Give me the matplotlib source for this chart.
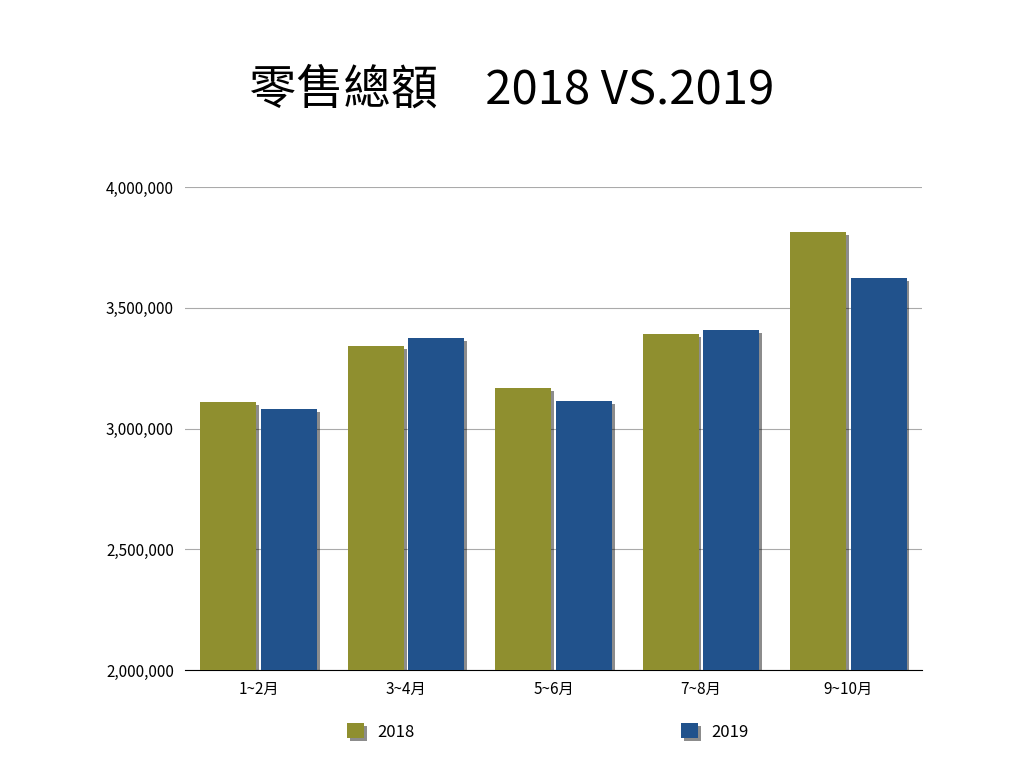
import numpy as np
import matplotlib.pyplot as plt
import matplotlib.patheffects as pe
from matplotlib.ticker import FuncFormatter

plt.rcParams["font.family"] = ["Noto Sans CJK TC", "DejaVu Sans"]

CATEGORIES = ["1~2月", "3~4月", "5~6月", "7~8月", "9~10月"]
SALES_2018 = [3110000, 3342000, 3168000, 3391000, 3814000]
SALES_2019 = [3081000, 3375000, 3114000, 3408000, 3623000]
SERIES_LABELS = ["2018", "2019"]

COLOR_2018 = "#8F8F2F"
COLOR_2019 = "#21528C"

fig = plt.figure(figsize=(10.24, 7.68), dpi=100)
ax = fig.add_axes([185 / 1024, 1 - 670 / 768, 737 / 1024, 483 / 768])

x = np.arange(len(CATEGORIES))
w = 0.4
shadow = [pe.SimplePatchShadow(offset=(2, -2), shadow_rgbFace="black", alpha=0.45), pe.Normal()]
b1 = ax.bar(x - w / 2 - 0.005, SALES_2018, width=w - 0.02, bottom=0, color=COLOR_2018,
            label=SERIES_LABELS[0], zorder=3)
b2 = ax.bar(x + w / 2 + 0.005, SALES_2019, width=w - 0.02, color=COLOR_2019,
            label=SERIES_LABELS[1], zorder=3)
for bar in list(b1) + list(b2):
    bar.set_path_effects(shadow)

ax.set_ylim(2000000, 4000000)
ax.set_yticks([2000000, 2500000, 3000000, 3500000, 4000000])
ax.yaxis.set_major_formatter(FuncFormatter(lambda v, p: f"{int(v):,}"))
ax.set_xlim(-0.5, len(CATEGORIES) - 0.5)
ax.set_xticks(x)
ax.set_xticklabels(CATEGORIES)
ax.grid(axis="y", color="#aaaaaa", linewidth=0.8, zorder=0)
for s in ["top", "right", "left"]:
    ax.spines[s].set_visible(False)
ax.spines["bottom"].set_color("black")
ax.tick_params(axis="both", length=0, labelsize=11, pad=8)

fig.text(0.5, 1 - 90 / 768, "零售總額　2018 VS.2019", ha="center", va="center", fontsize=34)

fig.legend(handles=[b1, b2], labels=SERIES_LABELS, loc="center", bbox_to_anchor=(0.535, 1 - 732 / 768),
           ncol=2, frameon=False, fontsize=12, handlelength=1, handleheight=1,
           columnspacing=16)

fig.savefig("out.png", dpi=100)
